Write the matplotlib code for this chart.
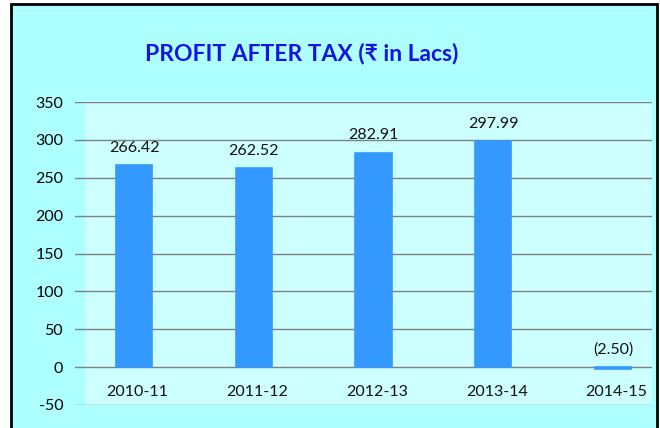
import matplotlib
matplotlib.use("Agg")
import matplotlib.pyplot as plt
from matplotlib.patches import Rectangle

# data
years = ['2010-11', '2011-12', '2012-13', '2013-14', '2014-15']
profit = [266.42, 262.52, 282.91, 297.99, -2.50]
y_ticks = [-50, 0, 50, 100, 150, 200, 250, 300, 350]

W, H = 660, 428
outer_bg = '#AEFFFF'
plot_bg = '#CCFFFF'
bar_color = '#3399FF'
title_color = '#1414E6'
fonts = ['Lato', 'DejaVu Sans']

fig = plt.figure(figsize=(W / 100, H / 100), dpi=100)
fig.patch.set_facecolor('white')

def px_rect(x0, y0, x1, y1, **kw):
    # rectangle given in image pixels (top-left origin)
    return Rectangle((x0 / W, 1 - y1 / H), (x1 - x0) / W, (y1 - y0) / H,
                     transform=fig.transFigure, **kw)

# chart area with black border, then the lighter plot area
fig.patches.append(px_rect(11, 4, 657, 440, facecolor=outer_bg,
                           edgecolor='black', linewidth=2, zorder=0))
fig.patches.append(px_rect(85, 101, 652, 405, facecolor=plot_bg,
                           edgecolor='none', zorder=0.5))

ax = fig.add_axes([75 / W, 1 - 405 / H, (652 - 75) / W, (405 - 102) / H])
ax.set_facecolor('none')
ax.set_zorder(2)

x = range(len(years))
ax.bar(x, profit, width=0.305, color=bar_color, edgecolor=bar_color,
       linewidth=1.2, zorder=3)

ax.set_xlim(-0.493, 4.326)
ax.set_ylim(-50, 350)
ax.set_yticks(y_ticks)
ax.set_yticklabels([str(t) for t in y_ticks], fontsize=11.5, family=fonts)
ax.tick_params(axis='y', length=0, pad=8.5)
ax.set_xticks([])
ax.grid(axis='y', color='#808080', linewidth=1.0, zorder=1)
ax.set_axisbelow(True)
for s in ax.spines.values():
    s.set_visible(False)

# category labels sit just under the zero line
for i, lab in enumerate(years):
    ax.text(i + 0.03, -33, lab, ha='center', va='center', fontsize=11.5,
            family=fonts, color='#111111')

# value labels
for i, v in enumerate(profit):
    txt = f'({abs(v):.2f})' if v < 0 else f'{v:.2f}'
    ax.annotate(txt, (i, max(v, 0)), xytext=(0, 12.5), textcoords='offset points',
                ha='center', va='center', fontsize=11.5, family=fonts,
                color='#111111')

fig.text(302 / W, 1 - 54 / H, 'PROFIT AFTER TAX (₹ in Lacs)', ha='center',
         va='center', fontsize=16.5, fontweight='bold', color=title_color,
         family=fonts)

fig.savefig('out.png', dpi=100)
